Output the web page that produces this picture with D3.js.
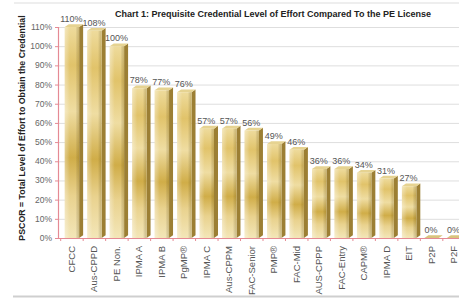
<!DOCTYPE html>
<html>
<head>
<meta charset="utf-8">
<script src="https://cdn.jsdelivr.net/npm/d3@7"></script>
<style>
  body { margin: 0; background: #fff; }
  svg { display: block; font-family: Arial, "Liberation Sans", sans-serif; }
</style>
</head>
<body>
<svg id="chart" width="459" height="300"></svg>
<script>
// data
var categories = ["CFCC", "Aus-CPPD", "PE Non.", "IPMA A", "IPMA B", "PgMP®", "IPMA C", "Aus-CPPM",
                  "FAC-Senior", "PMP®", "FAC-Mid", "AUS-CPPP", "FAC-Entry", "CAPM®", "IPMA D", "EIT", "P2P", "P2F"];
var values = [110, 108, 100, 78, 77, 76, 57, 57, 56, 49, 46, 36, 36, 34, 31, 27, 0, 0];
var yTicks = [0, 10, 20, 30, 40, 50, 60, 70, 80, 90, 100, 110];

var svg = d3.select("#chart");
var plotLeft = 58, plotRight = 468, plotTop = 27, plotBottom = 238;
var depth = 4; // 3d offset of the bars

var x = d3.scaleBand().domain(categories).range([plotLeft, plotRight]).paddingInner(0.36).paddingOuter(0.3);
var y = d3.scaleLinear().domain([0, 110]).range([plotBottom, plotTop]);

// gradients for the golden bars
var defs = svg.append("defs");
var front = defs.append("linearGradient").attr("id", "front").attr("x1", 0).attr("y1", 0).attr("x2", 0).attr("y2", 1);
[[0, "#eedb9c"], [0.18, "#e1c36a"], [0.4, "#efdda2"], [0.62, "#d0ad48"], [0.8, "#e9d28e"], [1, "#f3e6b8"]]
  .forEach(function(s) { front.append("stop").attr("offset", s[0]).attr("stop-color", s[1]); });
var shade = defs.append("linearGradient").attr("id", "shade").attr("x1", 0).attr("y1", 0).attr("x2", 1).attr("y2", 0);
[[0, "#fff", 0.35], [0.35, "#fff", 0], [0.75, "#000", 0], [1, "#6b4f00", 0.25]]
  .forEach(function(s) { shade.append("stop").attr("offset", s[0]).attr("stop-color", s[1]).attr("stop-opacity", s[2]); });

// page frame lines
svg.append("line").attr("x1", 14).attr("x2", 459).attr("y1", 3).attr("y2", 3).attr("stroke", "#ddd").attr("stroke-width", 1);
svg.append("line").attr("x1", 13).attr("x2", 459).attr("y1", 296.5).attr("y2", 296.5).attr("stroke", "#cfcfcf").attr("stroke-width", 2);

// gridlines
svg.selectAll(".grid")
   .data(yTicks.slice(1))
   .enter()
   .append("line")
   .attr("class", "grid")
   .attr("x1", plotLeft).attr("x2", 459)
   .attr("y1", function(d) { return y(d) + 0.5; })
   .attr("y2", function(d) { return y(d) + 0.5; })
   .attr("stroke", "#dedede");

// y tick labels
svg.selectAll(".ylab")
   .data(yTicks)
   .enter()
   .append("text")
   .attr("class", "ylab")
   .attr("x", plotLeft - 6)
   .attr("y", function(d) { return y(d) + 3; })
   .attr("text-anchor", "end")
   .attr("font-size", "8.5px")
   .attr("fill", "#666")
   .text(function(d) { return d + "%"; });

// left ticks
svg.selectAll(".ytick")
   .data(yTicks)
   .enter()
   .append("line")
   .attr("x1", plotLeft - 3).attr("x2", plotLeft)
   .attr("y1", function(d) { return y(d) + 0.5; })
   .attr("y2", function(d) { return y(d) + 0.5; })
   .attr("stroke", "#e58a94");

// bars (side, top, front)
var bars = svg.selectAll(".bar")
   .data(values)
   .enter()
   .append("g")
   .attr("class", "bar");

bars.append("path")
   .attr("d", function(d, i) {
     var x0 = x(categories[i]) + x.bandwidth(), y0 = y(d);
     return "M" + x0 + "," + y0 + "L" + (x0 + depth) + "," + (y0 - depth * 0.7) +
            "L" + (x0 + depth) + "," + (plotBottom - depth * 0.7) + "L" + x0 + "," + plotBottom + "Z";
   })
   .attr("fill", "#9c7f34");

bars.append("path")
   .attr("d", function(d, i) {
     var x0 = x(categories[i]), y0 = y(d), w = x.bandwidth();
     return "M" + x0 + "," + y0 + "L" + (x0 + depth) + "," + (y0 - depth * 0.7) +
            "L" + (x0 + w + depth) + "," + (y0 - depth * 0.7) + "L" + (x0 + w) + "," + y0 + "Z";
   })
   .attr("fill", function(d) { return d == 0 ? "#d9c47e" : "#e6d391"; });

bars.append("rect")
   .attr("x", function(d, i) { return x(categories[i]); })
   .attr("y", function(d) { return y(d); })
   .attr("width", x.bandwidth())
   .attr("height", function(d) { return plotBottom - y(d); })
   .attr("fill", "url(#front)");

bars.append("rect")
   .attr("x", function(d, i) { return x(categories[i]); })
   .attr("y", function(d) { return y(d); })
   .attr("width", x.bandwidth())
   .attr("height", function(d) { return plotBottom - y(d); })
   .attr("fill", "url(#shade)");

// value labels
svg.selectAll(".vlab")
   .data(values)
   .enter()
   .append("text")
   .attr("class", "vlab")
   .attr("x", function(d, i) { return x(categories[i]) + x.bandwidth() / 2 - 0.5; })
   .attr("y", function(d) { return y(d) - 5; })
   .attr("text-anchor", "middle")
   .attr("font-size", "9px")
   .attr("fill", "#555")
   .text(function(d) { return d + "%"; });

// axis lines
svg.append("line").attr("x1", plotLeft + 0.5).attr("x2", plotLeft + 0.5).attr("y1", plotTop).attr("y2", plotBottom)
   .attr("stroke", "#e58a94").attr("stroke-width", 1.2);
svg.append("line").attr("x1", plotLeft).attr("x2", 459).attr("y1", plotBottom + 0.5).attr("y2", plotBottom + 0.5)
   .attr("stroke", "#e58a94").attr("stroke-width", 1.2);

// bottom ticks between categories
svg.selectAll(".xtick")
   .data(categories)
   .enter()
   .append("line")
   .attr("x1", function(d) { return x(d) - x.step() * x.paddingInner() / 2; })
   .attr("x2", function(d) { return x(d) - x.step() * x.paddingInner() / 2; })
   .attr("y1", plotBottom).attr("y2", plotBottom + 3)
   .attr("stroke", "#e58a94");

// category labels
svg.selectAll(".xlab")
   .data(categories)
   .enter()
   .append("text")
   .attr("class", "xlab")
   .attr("transform", function(d) {
     return "translate(" + (x(d) + x.bandwidth() / 2 + 3) + "," + (plotBottom + 8) + ") rotate(-90)";
   })
   .attr("text-anchor", "end")
   .attr("font-size", "9.5px")
   .attr("fill", "#555")
   .text(function(d) { return d; });

// titles
svg.append("text")
   .attr("x", 273).attr("y", 17)
   .attr("text-anchor", "middle")
   .attr("font-size", "9px")
   .attr("font-weight", "bold")
   .attr("fill", "#222")
   .text("Chart 1: Prequisite Credential Level of Effort Compared To the PE License");

svg.append("text")
   .attr("transform", "translate(25,128) rotate(-90)")
   .attr("text-anchor", "middle")
   .attr("font-size", "8.8px")
   .attr("font-weight", "bold")
   .attr("fill", "#222")
   .text("PSCOR = Total Level of Effort to Obtain the Credential");
</script>
</body>
</html>
